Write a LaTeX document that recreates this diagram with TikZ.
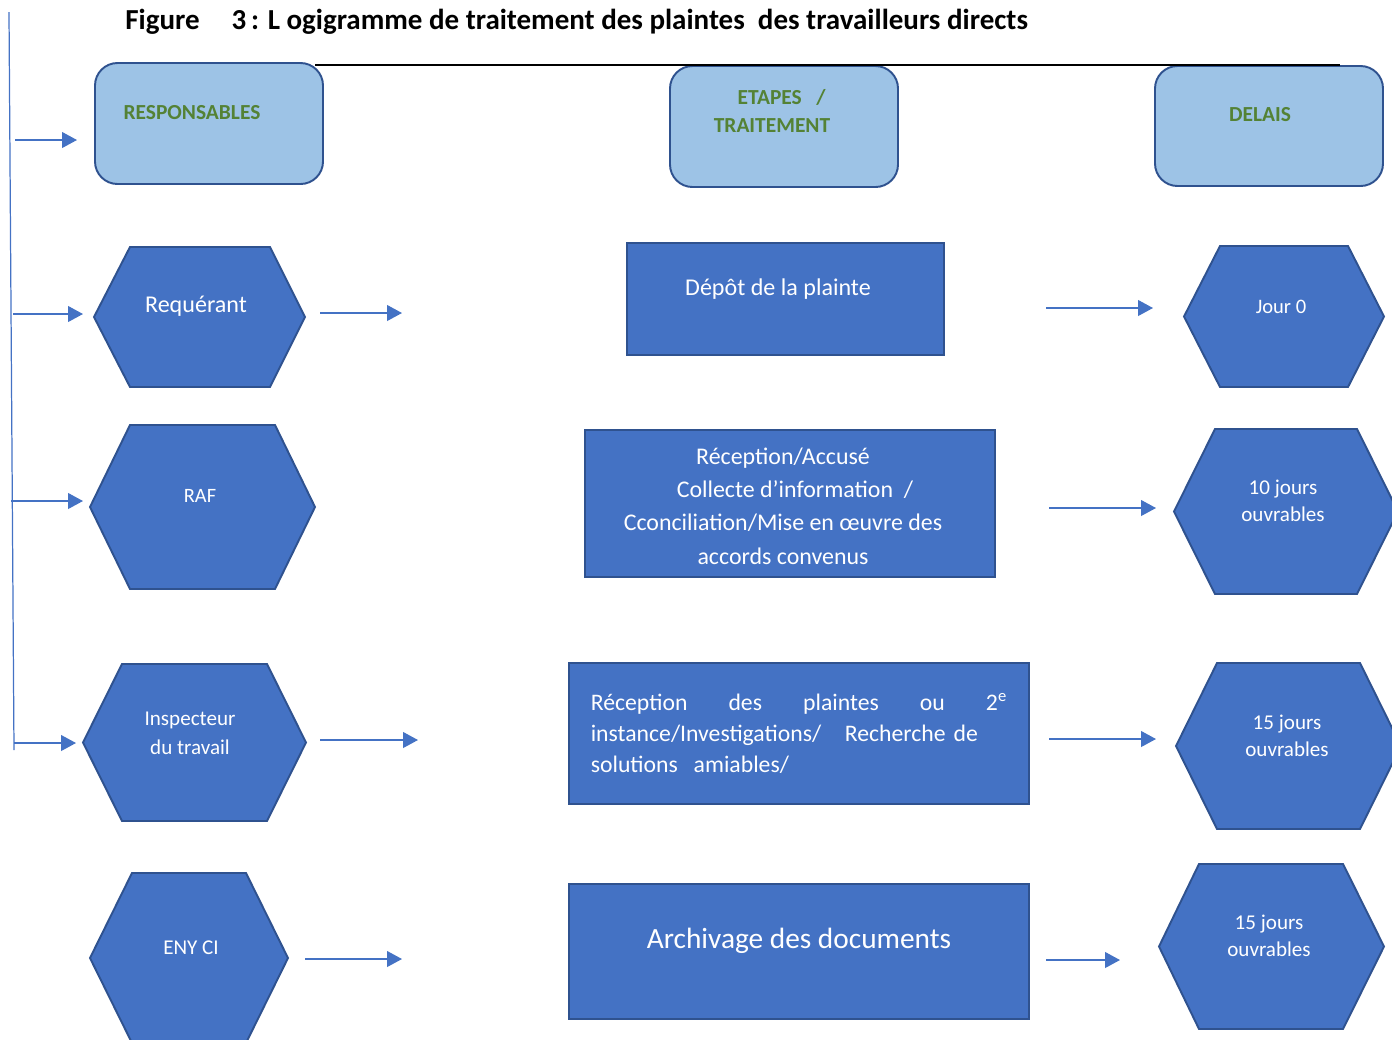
\documentclass[tikz,border=0pt]{standalone}
\usepackage{fontspec}
\setmainfont{Carlito}
\usetikzlibrary{
    arrows.meta,
    positioning
}

\definecolor{hexblue}{HTML}{4472C4}
\definecolor{hexedge}{HTML}{2F528F}
\definecolor{headblue}{HTML}{9DC3E6}
\definecolor{headgreen}{HTML}{548235}

\tikzset{
    hexa/.style={fill=hexblue, draw=hexedge, line width=1.1pt},
    stepbox/.style={fill=hexblue, draw=hexedge, line width=1.1pt},
    headbox/.style={fill=headblue, draw=hexedge, line width=1.1pt,
                    rounded corners=0.45cm},
    headtext/.style={text=headgreen, align=center,
                     font=\fontsize{12.2}{16}\selectfont\bfseries},
    celltext/.style={text=white, align=center, inner sep=0pt,
                     font=\fontsize{12}{15.5}\selectfont},
    flow/.style={draw=hexblue, line width=0.8pt,
                 -{Triangle[length=8.5pt,width=9pt]}}
}

% left x, top-left x, top-right x, right x, top y, bottom y
\newcommand{\hexcell}[6]{%
    \filldraw[hexa] (#1,{(#5+#6)/2}) -- (#2,#5) -- (#3,#5) --
    (#4,{(#5+#6)/2}) -- (#3,#6) -- (#2,#6) -- cycle;}

\begin{document}
\begin{tikzpicture}[x=0.02cm,y=-0.02cm]

\useasboundingbox (0,0) rectangle (1392,1039);
\clip (0,0) rectangle (1392,1039);

% Title
\node[anchor=base west, inner sep=0pt,
      font=\fontsize{16.5}{19}\selectfont\bfseries] (title) at (125,29)
    {Figure\hspace{1.1em}3\,: L ogigramme de traitement des plaintes\ \ des travailleurs directs};

% Headers
\draw[headbox] (95,63) rectangle (323,184);
\draw[headbox] (670,66) rectangle (898,187);
\draw[headbox] (1155,66) rectangle (1383,186);

\coordinate (ruleL) at (315,65);
\coordinate (ruleR) at (1340,65);
\draw[line width=0.9pt] (ruleL) -- (ruleR);

\node[headtext] (resp) at (192,113) {RESPONSABLES};
\node[headtext] (etapes) at (772,111) {\hspace*{0.9em}ETAPES\ \ \ /\\TRAITEMENT};
\node[headtext] (delais) at (1260,115) {DELAIS};

% Responsables
\hexcell{94}{130}{270}{305}{247}{387}
\node[celltext, font=\fontsize{13.7}{15}\selectfont] (req) at (196,306) {Requérant};

\hexcell{90}{130}{275}{315}{425}{589}
\node[celltext, font=\fontsize{11.6}{15}\selectfont] (raf) at (200,496) {RAF};

\hexcell{83}{122}{267}{306}{664}{821}
\node[celltext, font=\fontsize{12}{16.5}\selectfont] (insp) at (190,733) {Inspecteur\\du travail};

\hexcell{90}{132}{246}{288}{873}{1043}
\node[celltext] (eny) at (191,948) {ENY CI};

% Etapes
\draw[stepbox] (627,243) rectangle (944,355);
\node[celltext, font=\fontsize{13.7}{15}\selectfont] (depot) at (778,289) {Dépôt de la plainte};

\draw[stepbox] (585,430) rectangle (995,577);
\node[celltext, font=\fontsize{13.6}{19}\selectfont] (accuse) at (783,506)
    {Réception/Accusé\\
     \hspace*{1em}Collecte d’information\ \ /\\
     Cconciliation/Mise en œuvre des\\
     accords convenus};

\draw[stepbox] (569,663) rectangle (1029,804);
\node[celltext, align=left, text width=237pt,
      font=\fontsize{13.5}{17.6}\selectfont] (instance) at (799,733)
    {Réception\hfill des\hfill plaintes\hfill ou\hfill 2\textsuperscript{e}\\
     instance/Investigations/\ \ \ Recherche de\\
     solutions\ \ amiables/};

\draw[stepbox] (569,884) rectangle (1029,1019);
\node[celltext, font=\fontsize{16.7}{19}\selectfont] (archiv) at (799,941) {Archivage des documents};

% Delais
\hexcell{1184}{1220}{1348}{1384}{246}{387}
\node[celltext, font=\fontsize{11.7}{15}\selectfont] (jour0) at (1281,307) {Jour 0};

\hexcell{1174}{1215}{1357}{1398}{429}{594}
\node[celltext] (jours10) at (1283,501) {10 jours\\ouvrables};

\hexcell{1176}{1217}{1360}{1401}{663}{829}
\node[celltext] (jours15a) at (1287,736) {15\ jours\\ouvrables};

\hexcell{1159}{1199}{1343}{1384}{864}{1029}
\node[celltext] (jours15b) at (1269,936) {15\ jours\\ouvrables};

% Feed line
\coordinate (feedtop) at (9,12);
\coordinate (feedbot) at (14,750);
\draw[draw=hexblue, line width=0.7pt] (feedtop) -- (feedbot);

\foreach \i/\xa/\xb/\y in {1/15/77/140, 2/13/83/314, 3/11/83/501, 4/14/76/743}{
    \coordinate (feed\i) at (\xa,\y);
    \coordinate (feed\i tip) at (\xb,\y);
    \draw[flow] (feed\i) -- (feed\i tip);
}

% Arrows between columns
\foreach \i/\xa/\xb/\y in {1/320/402/313, 2/320/418/740, 3/305/402/959,
                           4/1046/1153/308, 5/1049/1156/508,
                           6/1049/1156/739, 7/1046/1120/960}{
    \coordinate (go\i) at (\xa,\y);
    \coordinate (go\i tip) at (\xb,\y);
    \draw[flow] (go\i) -- (go\i tip);
}

\end{tikzpicture}
\end{document}
